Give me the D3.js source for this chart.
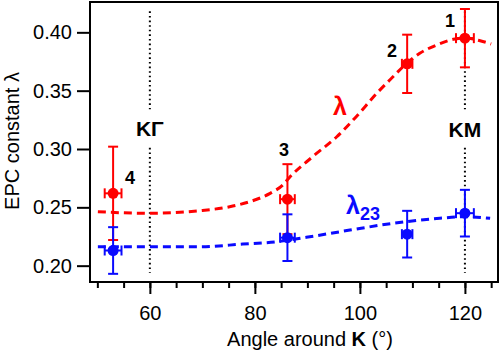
<!DOCTYPE html>
<html>
<head>
<meta charset="utf-8">
<script src="https://cdn.jsdelivr.net/npm/d3@7"></script>
<style>
  body { margin: 0; background: #fff; }
  text { font-family: "Liberation Sans", Arial, sans-serif; }
</style>
</head>
<body>
<div id="chart"></div>
<script>
// measured points (angle around K in degrees)
const labels = ['4', '3', '2', '1'];
const angles = [53.0, 86.2, 109.0, 120.0];
const angleErr = [1.6, 1.4, 1.0, 1.7];
const lambda = [0.262, 0.257, 0.373, 0.395];
const lambdaErr = [0.040, 0.030, 0.025, 0.025];
const lambda23 = [0.213, 0.224, 0.227, 0.245];
const lambda23Err = [0.020, 0.020, 0.020, 0.020];

// model curves
const curveAngles = [50.1, 60, 69.5, 75.2, 79.0, 82.9, 85.3, 86.7, 91.0, 95.6, 99.3, 103.2, 106.3, 108.9, 111.4, 114.6, 117.8, 120, 122.9, 125.0];
const curveLambda = [0.2462, 0.2449, 0.2471, 0.2505, 0.2548, 0.2620, 0.2691, 0.2762, 0.2934, 0.3105, 0.3277, 0.3477, 0.3619, 0.3734, 0.3820, 0.3891, 0.3940, 0.3951, 0.3928, 0.3900];
const curve23Angles = [50.1, 60, 69.5, 77.7, 84.1, 89.8, 98.1, 106.3, 115.2, 120, 124.8];
const curveLambda23 = [0.2162, 0.2162, 0.2162, 0.2185, 0.2205, 0.2243, 0.2305, 0.2363, 0.2406, 0.2420, 0.2406];

const xTicks = [60, 80, 100, 120];
const xMinor = [50, 55, 60, 65, 70, 75, 80, 85, 90, 95, 100, 105, 110, 115, 120, 125];
const yTicks = [0.20, 0.25, 0.30, 0.35, 0.40];

const red = "#ff0000", blue = "#0a0aff";

const svg = d3.select("#chart").append("svg")
    .attr("width", 500).attr("height", 351);

const x = d3.scaleLinear().domain([48.6, 126.3]).range([90, 498]);
const y = d3.scaleLinear().domain([0.186, 0.426]).range([282, 2]);

// axes
const xMinorAxis = d3.axisBottom(x).tickValues(xMinor).tickSize(6).tickFormat("");
const xAxis = d3.axisBottom(x).tickValues(xTicks).tickSize(12).tickPadding(12).tickFormat(d3.format("d"));
const yAxis = d3.axisLeft(y).tickValues(yTicks).tickSize(13).tickPadding(5).tickFormat(d3.format(".2f"));

svg.append("g").attr("transform", "translate(0,282)").call(xMinorAxis)
    .call(g => g.select(".domain").remove())
    .selectAll("line").attr("stroke-width", 2);
svg.append("g").attr("transform", "translate(0,282)").call(xAxis)
    .call(g => g.select(".domain").remove())
    .call(g => g.selectAll("line").attr("stroke-width", 2))
    .selectAll("text").attr("font-size", 20).attr("fill", "#000");
svg.append("g").attr("transform", "translate(90,0)").call(yAxis)
    .call(g => g.select(".domain").remove())
    .call(g => g.selectAll("line").attr("stroke-width", 2))
    .selectAll("text").attr("font-size", 20).attr("fill", "#000");

// frame
svg.append("rect").attr("x", 90).attr("y", 2).attr("width", 408).attr("height", 280)
    .attr("fill", "none").attr("stroke", "#000").attr("stroke-width", 2);

// axis titles
const xt = svg.append("text").attr("x", 310).attr("y", 346).attr("text-anchor", "middle")
    .attr("font-size", 20);
xt.append("tspan").text("Angle around ");
xt.append("tspan").attr("font-weight", "bold").text("K");
xt.append("tspan").text(" (°)");

svg.append("text").attr("transform", "translate(19,141) rotate(-90)")
    .attr("text-anchor", "middle").attr("font-size", 20).text("EPC constant λ");

// high symmetry directions
const vlines = [[60, 0.418, 0.334], [60, 0.301, 0.194], [120, 0.418, 0.334], [120, 0.301, 0.194]];
svg.selectAll(".vline").data(vlines).enter().append("line")
    .attr("x1", d => x(d[0])).attr("x2", d => x(d[0]))
    .attr("y1", d => y(d[1])).attr("y2", d => y(d[2]))
    .attr("stroke", "#000").attr("stroke-width", 2).attr("stroke-dasharray", "1.6,3");
svg.append("text").attr("x", x(60)).attr("y", 136).attr("text-anchor", "middle")
    .attr("font-size", 21).attr("font-weight", "bold").text("KΓ");
svg.append("text").attr("x", x(120)).attr("y", 137).attr("text-anchor", "middle")
    .attr("font-size", 21).attr("font-weight", "bold").text("KM");

// dashed curves
const line = d3.line().curve(d3.curveMonotoneX);
svg.append("path")
    .attr("d", line(curveAngles.map((a, i) => [x(a), y(curveLambda[i])])))
    .attr("fill", "none").attr("stroke", red).attr("stroke-width", 3).attr("stroke-dasharray", "8,5");
svg.append("path")
    .attr("d", line(curve23Angles.map((a, i) => [x(a), y(curveLambda23[i])])))
    .attr("fill", "none").attr("stroke", blue).attr("stroke-width", 3).attr("stroke-dasharray", "8,5");

// error bars and markers
function drawSeries(vals, errs, color) {
    const g = svg.append("g").attr("stroke", color).attr("stroke-width", 2);
    angles.forEach((a, i) => {
        const cx = x(a), cy = y(vals[i]);
        const y0 = y(vals[i] - errs[i]), y1 = y(vals[i] + errs[i]);
        const x0 = x(a - angleErr[i]), x1 = x(a + angleErr[i]);
        g.append("line").attr("x1", cx).attr("x2", cx).attr("y1", y0).attr("y2", y1);
        g.append("line").attr("x1", cx - 5).attr("x2", cx + 5).attr("y1", y0).attr("y2", y0);
        g.append("line").attr("x1", cx - 5).attr("x2", cx + 5).attr("y1", y1).attr("y2", y1);
        g.append("line").attr("x1", x0).attr("x2", x1).attr("y1", cy).attr("y2", cy);
        g.append("line").attr("x1", x0).attr("x2", x0).attr("y1", cy - 5).attr("y2", cy + 5);
        g.append("line").attr("x1", x1).attr("x2", x1).attr("y1", cy - 5).attr("y2", cy + 5);
        g.append("circle").attr("cx", cx).attr("cy", cy).attr("r", 5.5)
            .attr("fill", color).attr("stroke", "none");
    });
}
drawSeries(lambda, lambdaErr, red);
drawSeries(lambda23, lambda23Err, blue);

// point numbers
const numPos = [[130, 184], [284, 156], [392, 57], [450, 27]];
svg.selectAll(".num").data(labels).enter().append("text")
    .attr("x", (d, i) => numPos[i][0]).attr("y", (d, i) => numPos[i][1])
    .attr("text-anchor", "middle").attr("font-size", 18).attr("font-weight", "bold").text(d => d);

// series labels
svg.append("text").attr("x", 340).attr("y", 115).attr("text-anchor", "middle")
    .attr("font-size", 25).attr("font-weight", "bold").attr("fill", red).text("λ");
const l23 = svg.append("text").attr("x", 346).attr("y", 214)
    .attr("font-size", 25).attr("font-weight", "bold").attr("fill", blue);
l23.append("tspan").text("λ");
l23.append("tspan").attr("font-size", 18).attr("dy", 6).text("23");
</script>
</body>
</html>
